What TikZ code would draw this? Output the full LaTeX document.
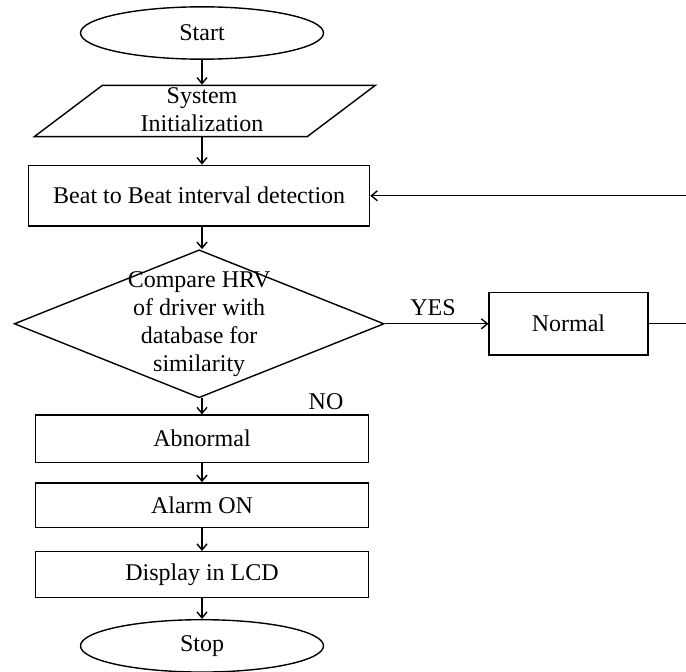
\documentclass[tikz,border=0pt]{standalone}
\usepackage{fontspec}
\setmainfont{Liberation Serif}
\usetikzlibrary{shapes.geometric,arrows.meta}

\begin{document}
\begin{tikzpicture}[font=\fontsize{12}{14}\selectfont]
  \tikzset{
    term_node/.style={ellipse, draw, line width=0.7pt, minimum width=4.27cm, minimum height=0.92cm, inner sep=0pt},
    io_node/.style={trapezium, trapezium left angle=37, trapezium right angle=143, trapezium stretches body=true, draw, line width=0.7pt, minimum width=5.99cm, inner xsep=1pt, inner ysep=12.8pt},
    proc_node/.style={rectangle, draw, line width=0.7pt, minimum width=5.85cm, inner sep=2pt},
    dec_node/.style={diamond, draw, line width=0.7pt, minimum width=6.5cm, minimum height=2.6cm, inner sep=1pt},
    flow/.style={line width=0.7pt, -{Straight Barb[length=3pt,width=5pt]}}
  }
  \useasboundingbox (0,0) rectangle (12.055,-11.809);

  % Nodos de la columna principal
  \node[term_node] (start) at (3.55,-0.58) {Start};
  \node[io_node] (init) at (3.6,-1.95) {};
  \node[align=center, inner sep=0pt] (initText) at (3.55,-1.93) {System\\Initialization};
  \node[proc_node, minimum width=5.99cm, minimum height=1.07cm] (beat) at (3.5,-3.44) {Beat to Beat interval detection};
  \node[dec_node, label={[align=center]center:Compare HRV\\of driver with\\database for\\similarity}] (cmp) at (3.5,-5.69) {};
  \node[proc_node, minimum height=0.83cm] (abn) at (3.55,-7.71) {Abnormal};
  \node[proc_node, minimum height=0.79cm] (alarm) at (3.55,-8.88) {Alarm ON};
  \node[proc_node, minimum height=0.81cm] (lcd) at (3.55,-10.10) {Display in LCD};
  \node[term_node] (stop) at (3.55,-11.35) {Stop};

  % Rama del YES
  \node[proc_node, minimum width=2.79cm, minimum height=1.09cm] (normal) at (9.99,-5.69) {Normal};
  \node (yes) at (7.61,-5.41) {YES};
  \node (no) at (5.73,-7.06) {NO};

  % Puntos en el borde derecho
  \coordinate (edgeA) at (12.055,-5.69);
  \coordinate (edgeB) at (12.055,-3.44);

  % Conexiones
  \draw[flow] (start) -- (start |- init.north);
  \draw[flow] (init.south -| start) -- (start |- beat.north);
  \draw[flow] (beat.south -| start) -- (start |- cmp.north);
  \draw[flow] (cmp.south -| start) -- (abn);
  \draw[flow] (abn) -- (alarm);
  \draw[flow] (alarm) -- (lcd);
  \draw[flow] (lcd) -- (stop);
  \draw[flow] (cmp) -- (normal);
  \draw[line width=0.7pt] (normal) -- (edgeA);
  \draw[flow] (edgeB) -- (beat);
\end{tikzpicture}
\end{document}
